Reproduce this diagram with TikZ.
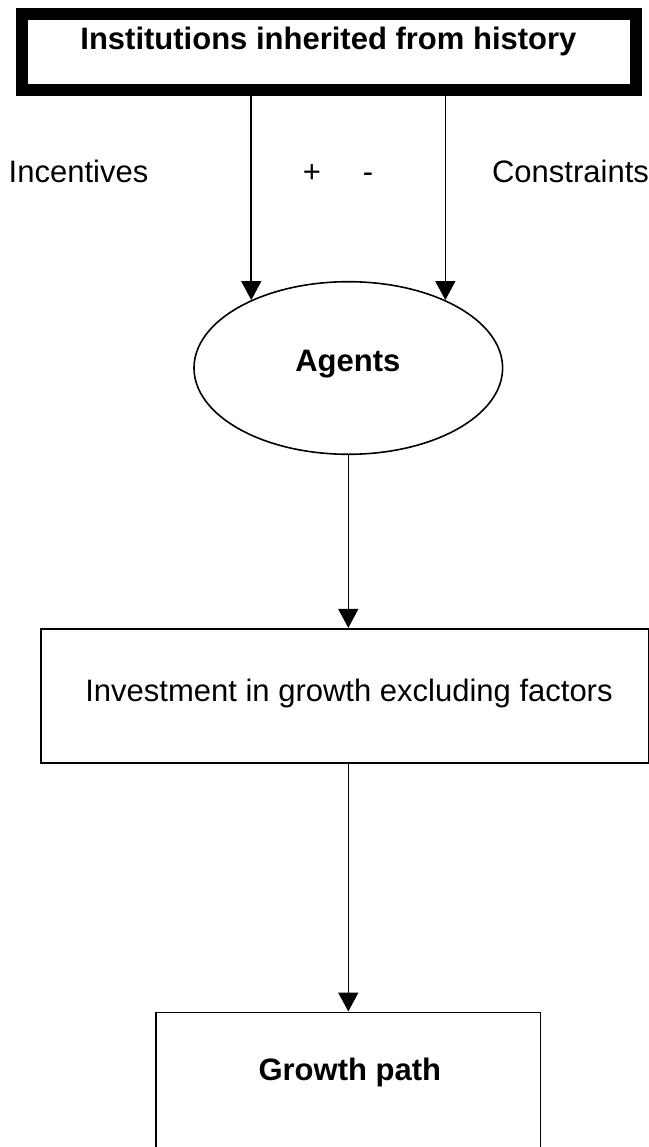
\documentclass[tikz,border=0pt]{standalone}
\usepackage{fontspec}
\setmainfont{Liberation Sans}
\usetikzlibrary{arrows.meta,shapes.geometric}
\begin{document}
\begin{tikzpicture}[x=1pt,y=-1pt,
  txt/.style={anchor=base,inner sep=0pt,font=\fontsize{31}{37}\selectfont},
  btxt/.style={txt,font=\fontsize{31}{37}\selectfont\bfseries},
  thinbox/.style={draw,line width=1.6pt,inner sep=0pt,rectangle},
  arr/.style={line width=1.6pt,-{Triangle[width=20pt,length=19pt]}}]
\useasboundingbox (0,0) rectangle (648,1147);
% top box
\node[draw,line width=12pt,rectangle,inner sep=0pt,minimum width=614.3pt,minimum height=75.8pt] (inst) at (328.85,52.4) {};
\node[btxt] (instlabel) at (328.4,50) {Institutions inherited from history};
% ellipse
\node[draw,ellipse,line width=1.6pt,inner sep=0pt,minimum width=308.6pt,minimum height=172.6pt] (agents) at (348.3,368) {};
\node[btxt] (agentslabel) at (347.8,371.7) {Agents};
% labels
\node[txt] (incent) at (78.5,183) {Incentives};
\node[txt] (plus) at (312,183) {+};
\node[txt] (minus) at (368,183) {-};
\node[txt] (constr) at (570.5,183) {Constraints};
% second box
\node[thinbox,minimum width=608.3pt,minimum height=134pt] (inv) at (344.85,695.7) {};
\node[txt] (invlabel) at (349,701.5) {Investment in growth excluding factors};
% third box
\node[thinbox,minimum width=384.6pt,minimum height=147.7pt] (growth) at (348.3,1086.15) {};
\node[btxt] (growthlabel) at (349.8,1080) {Growth path};
% arrows
\draw[arr] (inst.south -| agents.145) -- (agents.145);
\draw[arr] (inst.south -| agents.35.8) -- (agents.35.8);
\draw[arr] (agents.south) -- (agents.south |- inv.north);
\draw[arr] (inv.south -| agents.south) -- (agents.south |- growth.north);
\end{tikzpicture}
\end{document}
